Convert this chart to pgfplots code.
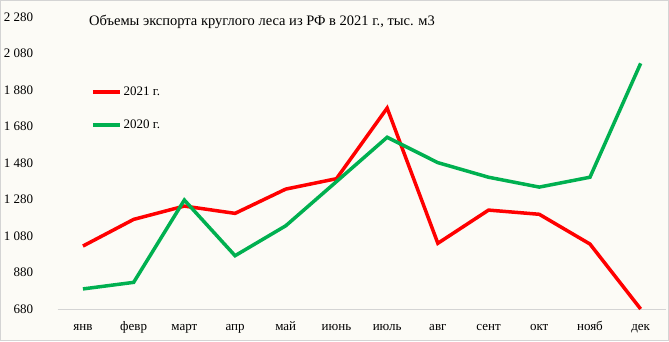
\documentclass[border=0pt]{standalone}
\usepackage{fontspec}
\setmainfont{Liberation Serif}
\usepackage{pgfplots}
\pgfplotsset{compat=1.18}
\definecolor{bg}{RGB}{252,251,246}
\definecolor{frame}{RGB}{212,212,212}
\definecolor{lred}{RGB}{255,0,0}
\definecolor{lgreen}{RGB}{0,176,80}
\begin{document}
\begin{tikzpicture}
\path[use as bounding box] (0pt,0pt) rectangle (669pt,341pt);
\draw[fill=bg, draw=frame, line width=1.2pt] (0.6pt,0.6pt) rectangle (668.4pt,340.4pt);
\begin{axis}[
  at={(57.6pt,32pt)}, anchor=south west,
  scale only axis, width=608.4pt, height=292pt,
  xmin=-0.5, xmax=11.5, ymin=680, ymax=2280,
  clip=false,
  axis x line*=bottom, axis y line*=left,
  y axis line style={draw=none},
  x axis line style={draw=frame, line width=0.8pt},
  tick style={draw=none},
  xtick={0,...,11},
  xticklabels={янв,февр,март,апр,май,июнь,июль,авг,сент,окт,нояб,дек},
  ytick={680,880,...,2280},
  ticklabel style={font=\fontsize{13}{15}\selectfont},
  xticklabel style={yshift=-10pt, text height=8pt, text depth=3pt},
  yticklabel style={xshift=-21pt},
  /pgf/number format/1000 sep={\ },
  /pgf/number format/assume math mode=true,
  legend style={draw=none, fill=none, at={(0.05,0.775)}, anchor=north west,
    font=\fontsize{13}{15}\selectfont, row sep=19pt, cells={anchor=west}},
  legend image code/.code={\draw[#1] (0pt,0pt) -- (27pt,0pt);},
]
\addplot[lred, line width=3.5pt] coordinates {
 (0,1025) (1,1171) (2,1244) (3,1204) (4,1337) (5,1394) (6,1781) (7,1040) (8,1222) (9,1199) (10,1036) (11,680)};
\addlegendentry{2021 г.}
\addplot[lgreen, line width=3.5pt] coordinates {
 (0,790) (1,826) (2,1277) (3,972) (4,1136) (5,1378) (6,1621) (7,1482) (8,1402) (9,1348) (10,1402) (11,2026)};
\addlegendentry{2020 г.}
\end{axis}
\node[font=\fontsize{14.5}{16}\selectfont] at (262pt,319pt) {Объемы экспорта круглого леса из РФ в 2021 г., тыс. м3};
\end{tikzpicture}
\end{document}
